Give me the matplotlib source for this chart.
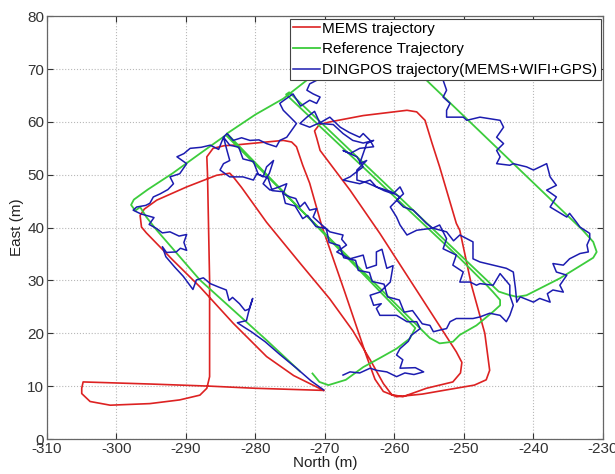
import numpy as np
import matplotlib
matplotlib.use("Agg")
import matplotlib.pyplot as plt

# ---------------- data ----------------
mems_x = [-270.2, -280.0, -286.5, -295.0, -304.8,
          -305.0, -305.0, -303.8, -300.9, -295.2, -290.9, -288.0, -287.0, -286.6,
          -286.6, -286.9, -287.0,
          -286.1, -284.5, -283.2, -276.0, -274.8, -274.1,
          -273.2, -272.2, -270.5, -267.2, -264.0, -262.8, -261.6, -259.7,
          -256.0, -252.5, -248.5, -246.8, -246.3,
          -247.0, -248.9, -250.6, -251.1, -253.5, -254.6, -255.6, -256.8, -258.2,
          -264.5, -269.3, -270.8, -271.5, -271.2,
          -270.7, -266.4, -262.1, -256.5, -251.1, -250.3, -250.5, -251.6, -255.4, -258.8,
          -260.4, -261.6, -263.5, -266.0, -269.3, -273.6, -278.4, -282.0, -283.2, -283.7,
          -285.6, -289.9, -294.2, -296.0, -296.6, -296.4,
          -295.7, -292.0, -288.0, -283.2, -278.4, -274.5, -270.2]
mems_y = [9.2, 9.6, 10.0, 10.4, 10.8,
          9.6, 8.6, 7.1, 6.4, 6.7, 7.4, 8.3, 9.6, 11.8,
          30.0, 50.0, 53.4,
          55.0, 55.5, 55.6, 56.5, 56.2, 55.3,
          51.8, 48.4, 40.5, 28.0, 15.6, 11.3, 9.0, 8.0,
          8.5, 9.3, 10.2, 11.2, 13.0,
          20.0, 29.0, 39.5, 40.8, 51.5, 56.0, 60.3, 61.9, 62.2,
          61.2, 60.0, 59.5, 58.3, 57.0,
          54.6, 47.1, 38.9, 27.5, 16.5, 14.5, 12.5, 10.8, 9.6, 8.0,
          8.4, 10.5, 15.0, 20.5, 26.5, 33.3, 41.0, 47.6, 49.6, 50.3,
          49.9, 47.7, 45.2, 43.5, 42.3, 40.1,
          39.0, 34.0, 28.8, 21.9, 15.6, 12.0, 9.2]

ref_x = [-271.8, -270.8, -269.5, -267.0, -264.5, -262.0, -259.7, -257.8, -257.0,
         -284.1,
         -280.0, -276.0, -272.6, -271.2, -269.0, -262.0, -257.0, -255.4,
         -232.9, -231.4, -230.9, -231.4, -232.5, -236.2, -241.0, -242.4, -243.6, -245.0,
         -275.15,
         -275.6, -250.6, -246.8, -245.8, -244.8, -244.8, -245.8, -248.2, -250.6, -251.6,
         -253.5, -254.9,
         -284.26,
         -288.0, -291.9, -295.5, -297.5, -297.9, -297.3, -296.6, -295.7, -294.2,
         -288.0, -283.2, -278.4, -273.6]
ref_y = [12.4, 10.8, 10.2, 11.2, 13.6, 15.4, 17.1, 19.0, 21.0,
         57.8,
         61.4, 64.4, 67.9, 69.6, 72.0, 74.0, 71.0, 67.9,
         39.5, 37.3, 35.4, 34.3, 33.4, 30.4, 27.2, 26.9, 27.3, 27.9,
         65.6,
         65.2, 34.2, 29.2, 27.8, 26.3, 25.3, 24.1, 21.5, 19.7, 18.4,
         18.1, 19.1,
         57.5,
         54.0, 50.3, 47.2, 45.3, 44.3, 43.2, 43.9, 42.0, 39.5,
         30.1, 24.4, 18.7, 12.8]

dingpos_pts = [
    # start near the reference start, bottom excursion
    (-267.4, 12.1), (-266.4, 12.7), (-265.0, 12.5), (-263.5, 13.4), (-262.6, 13.0),
    (-261.1, 12.7), (-259.7, 11.8), (-258.5, 12.5), (-257.2, 12.2), (-255.8, 12.7),
    (-257.0, 13.5), (-259.2, 13.4), (-258.8, 15.0), (-259.7, 15.9), (-259.2, 17.1),
    (-258.0, 18.5), (-257.6, 19.6), (-256.3, 20.9), (-256.8, 22.2),
    # first pass up the middle diagonal
    (-258.2, 22.2), (-259.7, 23.4), (-262.1, 23.4), (-262.6, 24.7), (-261.9, 25.6),
    (-263.0, 25.3), (-263.5, 27.2), (-262.1, 27.8), (-260.6, 29.7), (-260.2, 32.8),
    (-261.1, 32.3), (-261.8, 35.9), (-262.6, 35.4), (-262.6, 32.9), (-264.0, 32.3),
    (-264.5, 34.8), (-266.4, 34.1), (-268.3, 35.4), (-266.9, 36.7), (-267.6, 37.8),
    (-267.4, 38.6), (-269.3, 39.2), (-270.7, 40.8), (-271.7, 42.0), (-271.2, 43.6),
    (-272.2, 43.3), (-272.9, 44.8), (-273.6, 43.9), (-274.2, 45.5), (-275.0, 45.8),
    (-276.0, 46.4), (-275.5, 48.3), (-276.8, 47.6), (-277.9, 47.1), (-278.9, 48.3),
    (-278.0, 50.3), (-277.4, 52.7), (-278.4, 51.5), (-278.9, 49.6), (-279.8, 50.2),
    (-280.3, 49.0), (-281.8, 49.6), (-283.7, 49.6), (-285.1, 50.9), (-284.6, 52.1),
    (-283.7, 52.7), (-284.1, 54.6), (-284.6, 57.1),
    # along the top of the left loop, up to the top cluster
    (-284.1, 57.8), (-283.2, 56.5), (-282.0, 57.0), (-280.8, 56.5), (-279.5, 56.6),
    (-278.4, 55.9), (-277.0, 55.3), (-276.5, 56.5), (-275.5, 57.1), (-274.1, 59.7),
    (-275.0, 60.9), (-276.0, 62.2), (-276.5, 63.5), (-276.0, 64.0), (-274.6, 65.3),
    (-273.5, 63.0), (-272.2, 64.1), (-271.2, 63.5), (-270.7, 64.7), (-271.7, 65.3),
    (-272.6, 66.0), (-272.2, 67.2), (-271.0, 68.0), (-272.2, 69.8),
    (-266.0, 73.5), (-258.0, 72.5), (-254.0, 69.5),
    # right-hand diagonal going down
    (-253.0, 67.9), (-252.5, 66.0), (-253.0, 64.7), (-252.0, 63.5), (-252.5, 62.2),
    (-252.5, 60.9), (-250.1, 60.9), (-249.6, 60.3), (-247.7, 60.9), (-244.8, 60.3),
    (-244.3, 59.0), (-245.3, 57.1), (-244.3, 55.9), (-245.3, 54.6), (-244.8, 53.4),
    (-245.3, 52.1), (-243.4, 51.8), (-242.9, 52.1), (-241.0, 51.5), (-240.0, 50.9),
    (-238.1, 52.1), (-237.6, 49.6), (-236.7, 48.0), (-238.1, 47.1), (-236.7, 45.8),
    (-237.6, 43.9), (-235.2, 42.0), (-234.8, 42.7), (-233.8, 41.0), (-233.3, 40.1),
    (-231.9, 38.9), (-231.9, 37.9), (-232.3, 36.7), (-232.1, 35.4), (-233.3, 35.1),
    (-234.8, 34.1), (-235.7, 32.9), (-237.2, 33.2), (-236.7, 31.6), (-235.2, 31.0),
    (-236.2, 29.1), (-235.7, 27.8), (-237.2, 28.2), (-238.0, 27.5), (-237.6, 25.9),
    (-239.1, 26.6), (-240.0, 25.9), (-241.9, 26.9), (-242.4, 25.9),
    # second diagonal going up
    (-242.6, 28.6), (-242.9, 31.6), (-243.9, 32.3), (-245.8, 32.9), (-247.7, 33.5),
    (-248.7, 34.1), (-248.7, 37.3), (-250.6, 38.6), (-251.5, 37.5), (-252.5, 39.2),
    (-254.5, 39.9), (-256.8, 39.5), (-258.2, 38.6), (-259.2, 40.5), (-259.7, 42.0),
    (-260.6, 43.9), (-259.2, 45.8), (-260.5, 46.8), (-262.6, 47.7), (-264.0, 48.5),
    (-265.4, 49.0), (-265.4, 50.9), (-264.0, 52.7), (-265.0, 52.1), (-264.0, 55.9),
    (-263.0, 56.5), (-264.5, 56.0), (-266.0, 56.5), (-267.4, 57.8), (-268.8, 59.5),
    (-270.7, 59.7), (-271.5, 62.0), (-272.6, 60.9),
    # same diagonal going down again
    (-273.6, 59.7), (-272.2, 59.0), (-270.5, 60.0), (-269.3, 60.9), (-267.8, 59.0),
    (-266.5, 58.0), (-265.0, 57.1), (-264.5, 57.8), (-263.5, 56.5), (-263.0, 55.3),
    (-265.0, 55.0), (-266.4, 54.0), (-267.4, 54.6), (-265.4, 53.4), (-264.5, 51.5),
    (-266.4, 49.6), (-267.4, 49.0), (-265.0, 48.3), (-263.5, 49.0), (-262.6, 47.7),
    (-261.5, 47.0), (-260.2, 46.4), (-259.2, 47.7), (-258.7, 46.4), (-259.7, 45.2),
    (-258.7, 43.9), (-257.3, 43.3), (-256.3, 42.0), (-255.4, 40.8), (-254.5, 39.9),
    (-253.5, 40.5), (-252.5, 37.9), (-253.0, 36.0), (-251.1, 34.8), (-251.6, 32.9),
    (-250.1, 31.6), (-250.6, 29.7), (-249.1, 29.7), (-248.2, 29.1), (-247.7, 29.4),
    (-245.8, 29.1), (-244.8, 31.3), (-243.4, 29.1), (-243.4, 27.2), (-242.9, 25.3),
    (-243.4, 23.4), (-243.9, 22.2),
    # bottom of the middle loop, going left
    (-244.8, 23.4), (-246.3, 23.8), (-247.7, 23.1), (-248.7, 22.8), (-249.6, 22.8),
    (-251.1, 22.8), (-252.0, 22.2), (-252.5, 20.9), (-253.5, 20.6), (-254.4, 20.3),
    (-254.9, 21.5), (-256.0, 21.8),
    # second pass up the middle diagonal
    (-257.4, 24.3), (-258.6, 24.0), (-259.3, 26.3), (-261.0, 26.9), (-261.5, 29.3),
    (-263.2, 29.8), (-263.6, 31.5), (-265.2, 31.9), (-265.6, 33.8), (-267.3, 34.3),
    (-267.9, 36.6), (-269.4, 37.2), (-269.8, 39.8), (-271.3, 40.2), (-272.5, 42.3),
    (-273.2, 41.7), (-274.3, 44.1), (-275.7, 44.6), (-276.1, 46.8), (-277.6, 47.0),
    (-278.2, 49.4), (-279.6, 50.1), (-280.3, 52.5), (-281.8, 53.0), (-282.4, 55.2),
    (-283.7, 55.6), (-284.6, 57.1),
    # top-left edge down to the corner
    (-285.3, 54.8), (-286.5, 55.6), (-287.8, 55.2), (-289.4, 55.0), (-290.3, 54.0),
    (-291.3, 53.4), (-289.9, 52.1), (-290.9, 50.2), (-292.3, 49.6), (-291.8, 48.3),
    (-292.6, 47.2), (-293.7, 46.4), (-294.7, 45.8), (-295.2, 44.6), (-295.8, 44.2),
    (-297.1, 43.9), (-297.6, 43.3),
    # left diagonal down to the end
    (-296.5, 42.6), (-294.6, 41.9), (-295.3, 40.6), (-294.2, 39.8), (-293.4, 39.0),
    (-292.3, 39.2), (-291.0, 38.4), (-289.9, 38.7), (-290.3, 37.2), (-289.9, 35.7),
    (-290.8, 36.1), (-291.4, 35.4), (-292.8, 35.3), (-293.4, 36.4), (-292.9, 34.5),
    (-291.6, 32.5), (-290.4, 30.8), (-289.0, 28.3), (-288.5, 30.1), (-287.5, 30.5),
    (-286.5, 29.4), (-285.2, 28.7), (-284.2, 28.2), (-283.8, 26.2), (-283.3, 26.8),
    (-282.3, 25.6), (-281.5, 24.3), (-280.9, 24.6), (-280.4, 26.6), (-281.0, 24.0),
    (-281.3, 22.4), (-282.6, 22.0), (-281.8, 21.3), (-280.6, 20.3), (-278.6, 18.4),
    (-276.5, 16.0), (-274.1, 13.4), (-272.0, 11.0), (-270.2, 9.3),
]
dingpos_x = [p[0] for p in dingpos_pts]
dingpos_y = [p[1] for p in dingpos_pts]

labels = ["MEMS trajectory", "Reference Trajectory",
          "DINGPOS trajectory(MEMS+WIFI+GPS)"]
x_ticks = list(range(-310, -229, 10))
y_ticks = list(range(0, 81, 10))

# ---------------- figure ----------------
plt.rcParams['font.family'] = ['Liberation Sans', 'DejaVu Sans']
plt.rcParams['axes.unicode_minus'] = False
fig = plt.figure(figsize=(6.15, 4.74), dpi=100)
ax = fig.add_axes([0.0764, 0.0738, 0.904, 0.892])

ax.plot(mems_x, mems_y, color='#dd2222', lw=1.2, label=labels[0], zorder=3)
ax.plot(ref_x, ref_y, color='#3ccc3c', lw=1.3, label=labels[1], zorder=3)
ax.plot(dingpos_x, dingpos_y, color='#1c1cb0', lw=1.1, label=labels[2], zorder=4)

ax.set_xlim(-310, -230)
ax.set_ylim(0, 80)
ax.set_xticks(x_ticks)
ax.set_yticks(y_ticks)
ax.grid(True, linestyle=':', color='#b8b8b8', linewidth=0.8)
ax.set_axisbelow(True)
ax.tick_params(direction='in', length=4, top=True, right=True,
               labelsize=11, colors='#333333', width=0.8, pad=2)
for s in ax.spines.values():
    s.set_color('#666666')
    s.set_linewidth(0.9)
ax.set_xlabel('North (m)', fontsize=11, color='#222222', labelpad=0)
ax.set_ylabel('East (m)', fontsize=11, color='#222222', labelpad=2)

leg = ax.legend(loc='upper right', fontsize=11, frameon=True, fancybox=False,
                framealpha=1.0, edgecolor='#444444', borderpad=0.2,
                labelspacing=0.45, handlelength=1.8, handletextpad=0.15,
                borderaxespad=0.15)
leg.get_frame().set_linewidth(0.8)
leg.set_zorder(10)

fig.savefig('out.png', dpi=100)
